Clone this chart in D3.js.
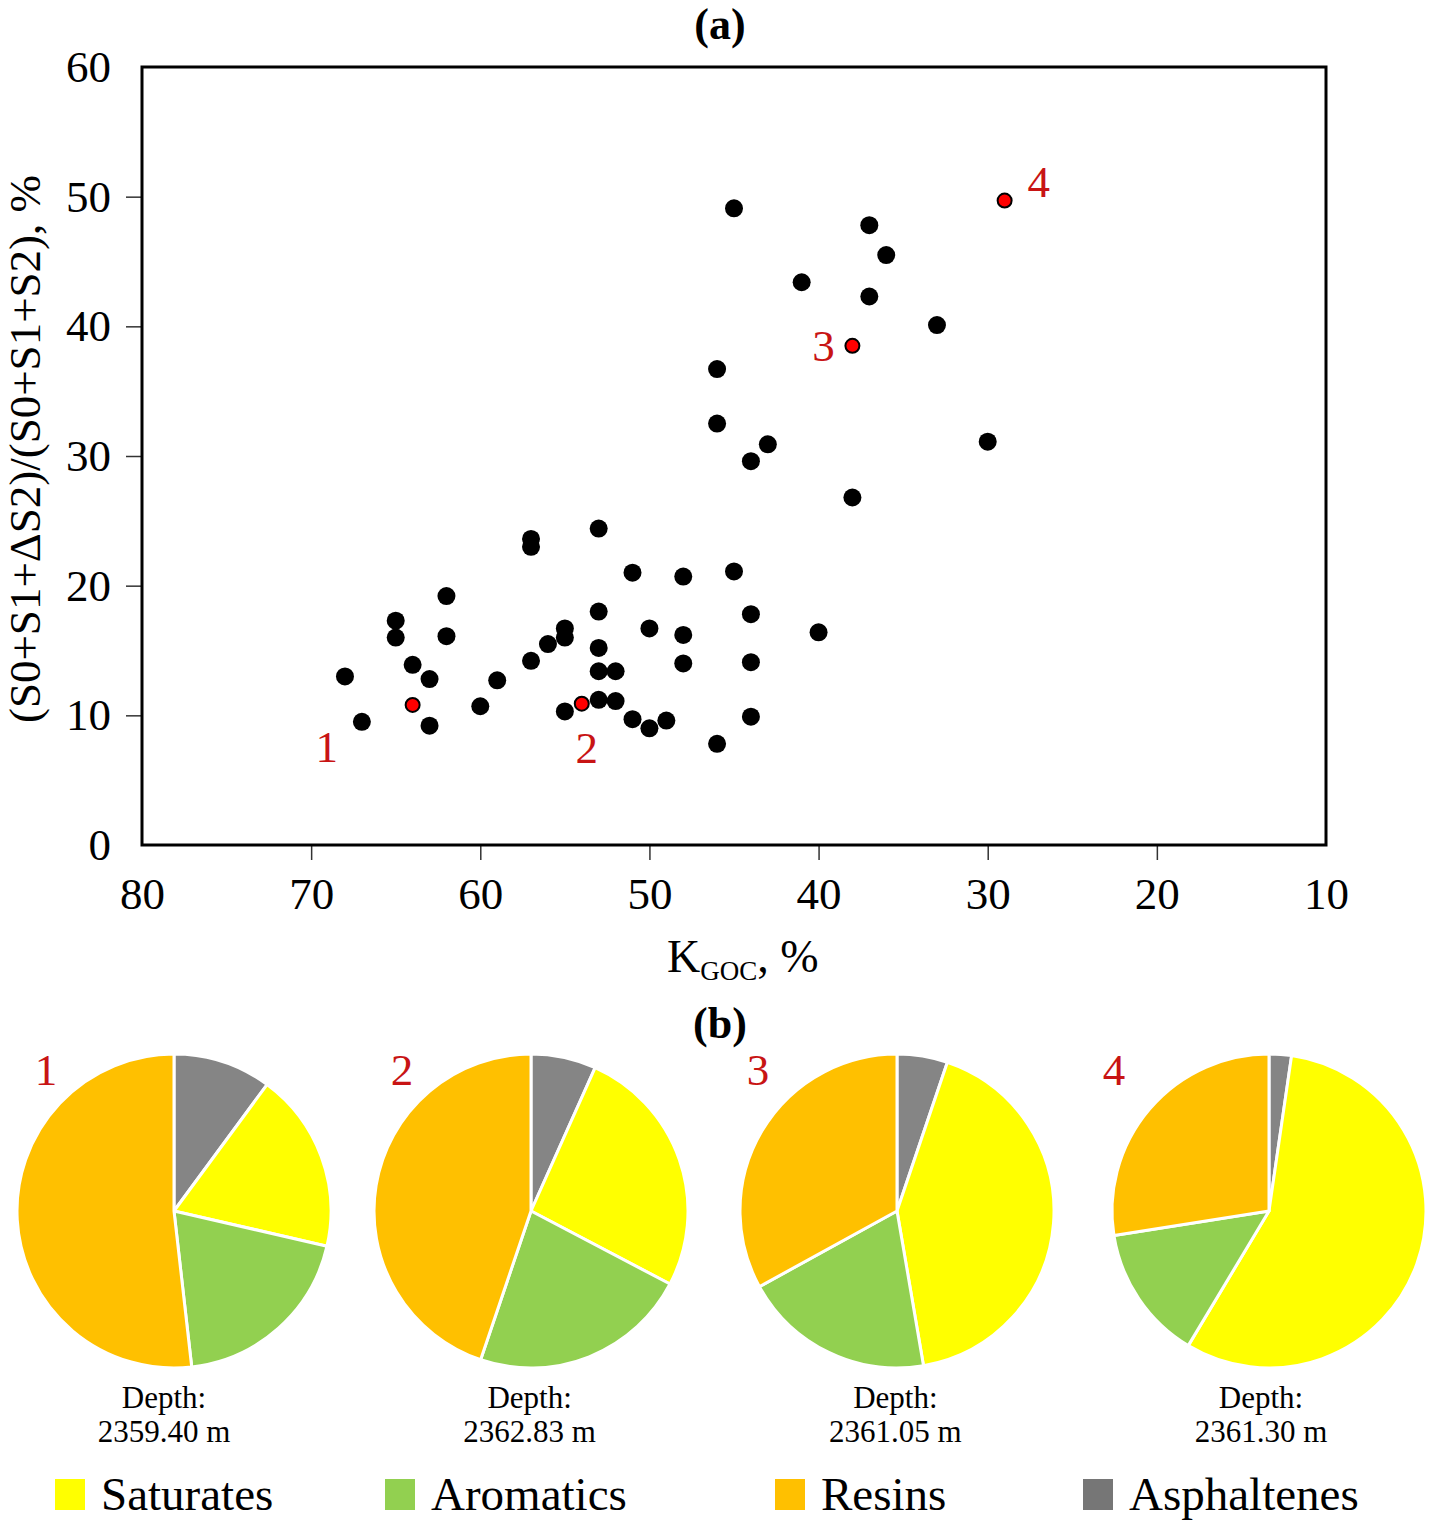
<!DOCTYPE html>
<html>
<head>
<meta charset="utf-8">
<script src="https://cdn.jsdelivr.net/npm/d3@7"></script>
<style>
body { margin: 0; background: #fff; }
text { font-family: "Liberation Serif", "Times New Roman", serif; }
</style>
</head>
<body>
<div id="chart"></div>
<script>
// (a) scatter: K_GOC vs ratio
var kgoc = [68, 67, 65, 65, 64, 63, 63, 62, 62, 60, 59, 57, 57, 57, 56, 55, 55, 55,
    53, 53, 53, 53, 53, 52, 52, 51, 51, 50, 50, 49, 48, 48, 48, 46, 46, 46, 45, 45,
    44, 44, 44, 44, 43, 41, 40, 38, 37, 37, 36, 33, 30];
var ratio = [13.0, 9.5, 17.3, 16.0, 13.9, 12.8, 9.2, 19.2, 16.1, 10.7, 12.7, 23.6, 23.0, 14.2, 15.5, 16.7, 16.0, 10.3,
    24.4, 18.0, 15.2, 13.4, 11.2, 13.4, 11.1, 21.0, 9.7, 16.7, 9.0, 9.6, 20.7, 16.2, 14.0, 36.7, 32.5, 7.8, 49.1, 21.1,
    29.6, 17.8, 14.1, 9.9, 30.9, 43.4, 16.4, 26.8, 47.8, 42.3, 45.5, 40.1, 31.1];

var sampleIds = ['1', '2', '3', '4'];
var sampleK = [64, 54, 38, 29];
var sampleRatio = [10.8, 10.9, 38.5, 49.7];

var xTicks = [80, 70, 60, 50, 40, 30, 20, 10];
var yTicks = [0, 10, 20, 30, 40, 50, 60];

// (b) group composition, %
var components = ['Saturates', 'Aromatics', 'Resins', 'Asphaltenes'];
var saturates = [18.5, 26.0, 42.1, 56.3];
var aromatics = [19.6, 22.5, 19.7, 13.9];
var resins = [51.8, 44.8, 33.0, 27.5];
var asphaltenes = [10.1, 6.7, 5.2, 2.3];
var depths = ['2359.40 m', '2362.83 m', '2361.05 m', '2361.30 m'];

var colors = {Saturates: '#ffff00', Aromatics: '#92d050', Resins: '#ffc000', Asphaltenes: '#858585'};
var red = '#c81414';

var width = 1429, height = 1520;

var svg = d3.select('#chart').append('svg')
    .attr('width', width)
    .attr('height', height);

// ---------- (a) ----------
var x = d3.scaleLinear().domain([80, 10]).range([142, 1326]);
var y = d3.scaleLinear().domain([0, 60]).range([845, 67]);

svg.append('text')
    .attr('x', 720).attr('y', 39)
    .attr('text-anchor', 'middle')
    .style('font-size', '44px').style('font-weight', 'bold')
    .text('(a)');

var xAxis = d3.axisBottom(x).tickValues(xTicks).tickSize(15).tickPadding(17).tickFormat(d3.format('d'));
var yAxis = d3.axisLeft(y).tickValues(yTicks).tickSize(16).tickPadding(15).tickFormat(d3.format('d'));

var gx = svg.append('g')
    .attr('transform', 'translate(0,' + y(0) + ')')
    .call(xAxis);
var gy = svg.append('g')
    .attr('transform', 'translate(' + x(80) + ',0)')
    .call(yAxis);

[gx, gy].forEach(function (g) {
    g.select('.domain').remove();
    g.selectAll('.tick line').attr('stroke', '#333').attr('stroke-width', 1.5);
    g.selectAll('.tick text').attr('fill', '#000').style('font-size', '45px')
        .style('font-family', '"Liberation Serif", "Times New Roman", serif');
});
gx.selectAll('.tick line').filter(function (d) { return d === 80 || d === 10; }).remove();
gy.selectAll('.tick line').filter(function (d) { return d === 0 || d === 60; }).remove();

svg.append('rect')
    .attr('x', x(80)).attr('y', y(60))
    .attr('width', x(10) - x(80)).attr('height', y(0) - y(60))
    .attr('fill', 'none').attr('stroke', '#000').attr('stroke-width', 3);

svg.append('g').selectAll('circle')
    .data(kgoc)
    .join('circle')
    .attr('cx', function (d) { return x(d); })
    .attr('cy', function (d, i) { return y(ratio[i]); })
    .attr('r', 9)
    .attr('fill', '#000');

svg.append('g').selectAll('circle')
    .data(sampleK)
    .join('circle')
    .attr('cx', function (d) { return x(d); })
    .attr('cy', function (d, i) { return y(sampleRatio[i]); })
    .attr('r', 7)
    .attr('fill', '#ff0000')
    .attr('stroke', '#000')
    .attr('stroke-width', 2);

// label offsets from each red point
var labelDx = [-86, 5, -29, 34];
var labelDy = [57, 59, 15, -4];
svg.append('g').selectAll('text')
    .data(sampleIds)
    .join('text')
    .attr('x', function (d, i) { return x(sampleK[i]) + labelDx[i]; })
    .attr('y', function (d, i) { return y(sampleRatio[i]) + labelDy[i]; })
    .attr('text-anchor', 'middle')
    .attr('fill', red)
    .style('font-size', '45px')
    .text(function (d) { return d; });

var xl = svg.append('text')
    .attr('x', 667).attr('y', 972)
    .style('font-size', '46px');
xl.append('tspan').text('K');
xl.append('tspan').attr('dy', 8).style('font-size', '27px').text('GOC');
xl.append('tspan').attr('dy', -8).text(', %');

svg.append('text')
    .attr('transform', 'translate(40,449) rotate(-90)')
    .attr('text-anchor', 'middle')
    .style('font-size', '45px')
    .text('(S0+S1+\u0394S2)/(S0+S1+S2), %');

// ---------- (b) ----------
svg.append('text')
    .attr('x', 720).attr('y', 1038)
    .attr('text-anchor', 'middle')
    .style('font-size', '44px').style('font-weight', 'bold')
    .text('(b)');

// pie slots across the page
var px = d3.scaleOrdinal().domain(sampleIds).range([174, 531, 897, 1269]);
var idX = d3.scalePoint().domain(sampleIds).range([46, 1114]);
var depthX = d3.scalePoint().domain(sampleIds).range([164, 1261]);
var pieY = 1211, radius = 157;

var pie = d3.pie().sort(null).value(function (d) { return d.value; });
var arc = d3.arc().innerRadius(0).outerRadius(radius);

sampleIds.forEach(function (id, i) {
    var slices = [
        {name: 'Asphaltenes', value: asphaltenes[i]},
        {name: 'Saturates', value: saturates[i]},
        {name: 'Aromatics', value: aromatics[i]},
        {name: 'Resins', value: resins[i]}
    ];
    svg.append('g')
        .attr('transform', 'translate(' + px(id) + ',' + pieY + ')')
        .selectAll('path')
        .data(pie(slices))
        .join('path')
        .attr('d', arc)
        .attr('fill', function (d) { return colors[d.data.name]; })
        .attr('stroke', '#fff')
        .attr('stroke-width', 3)
        .attr('stroke-linejoin', 'round');

    svg.append('text')
        .attr('x', idX(id)).attr('y', 1085)
        .attr('text-anchor', 'middle')
        .attr('fill', red)
        .style('font-size', '45px')
        .text(id);

    svg.append('text')
        .attr('x', depthX(id)).attr('y', 1408)
        .attr('text-anchor', 'middle')
        .style('font-size', '31px')
        .text('Depth:');
    svg.append('text')
        .attr('x', depthX(id)).attr('y', 1442)
        .attr('text-anchor', 'middle')
        .style('font-size', '31px')
        .text(depths[i]);
});

// legend
var legendX = [55, 385, 775, 1083];
var legend = svg.append('g').selectAll('g')
    .data(components)
    .join('g')
    .attr('transform', function (d, i) { return 'translate(' + legendX[i] + ',1479)'; });
legend.append('rect')
    .attr('width', 30).attr('height', 31)
    .attr('fill', function (d) { return d === 'Asphaltenes' ? '#767676' : colors[d]; });
legend.append('text')
    .attr('x', 46).attr('y', 31)
    .style('font-size', '47px')
    .text(function (d) { return d; });
</script>
</body>
</html>
